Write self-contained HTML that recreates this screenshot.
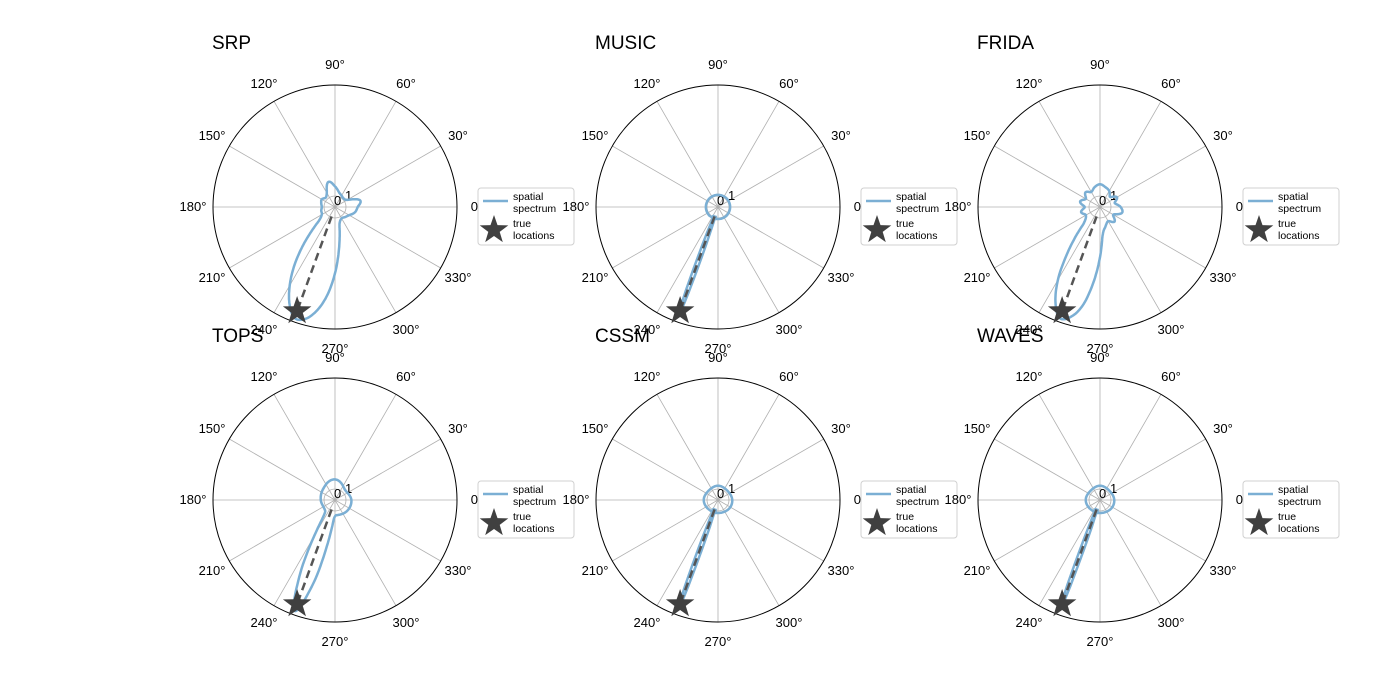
<!DOCTYPE html>
<html><head><meta charset="utf-8"><style>
body{margin:0;background:#fff;}
svg{display:block;font-family:"Liberation Sans","DejaVu Sans",sans-serif;}
</style></head><body>
<svg id="fig" width="1400" height="700" viewBox="0 0 1400 700"></svg>
<script>
const titles=["SRP","MUSIC","FRIDA","TOPS","CSSM","WAVES"];
const trueAngle=[250,250,250,250,250,250];
const trueRadius=[0.95,0.95,0.95,0.95,0.95,0.95];
const angSRP=[0,15,30,45,60,75,90,105,120,135,150,165,180,195,210,220,225,230,235,240,245,250,255,260,265,270,275,280,285,300,315,330,345];
const valSRP=[0.12,0.15,0.04,0.02,0.03,0.05,0.1,0.15,0.06,0.03,0.05,0.04,0.03,0.04,0.05,0.1,0.2,0.37,0.57,0.76,0.92,1.02,1.0,0.9,0.74,0.53,0.32,0.16,0.07,0.03,0.04,0.06,0.1];
const angMUSIC=[0,45,90,135,180,225,240,246,248,250,252,254,260,290,330];
const valMUSIC=[0.02,0.02,0.02,0.02,0.02,0.02,0.02,0.03,0.4,1.0,0.4,0.03,0.02,0.02,0.02];
const angFRIDA=[0,15,30,45,60,75,90,105,120,135,150,165,180,195,210,225,230,235,240,245,250,255,260,265,270,275,285,300,315,330,345];
const valFRIDA=[0.1,0.05,0.09,0.04,0.08,0.1,0.12,0.1,0.07,0.1,0.06,0.1,0.05,0.09,0.06,0.12,0.25,0.45,0.7,0.9,1.02,0.98,0.85,0.62,0.38,0.18,0.1,0.06,0.1,0.05,0.12];
const angTOPS=[0,45,90,135,180,225,235,240,245,250,255,260,265,270,280,320];
const valTOPS=[0.06,0.04,0.1,0.06,0.04,0.04,0.1,0.3,0.7,1.02,0.75,0.35,0.12,0.06,0.05,0.06];
const angCSSM=[0,45,90,135,180,225,240,246,248,250,252,254,260,290,330];
const valCSSM=[0.04,0.03,0.04,0.03,0.04,0.03,0.03,0.04,0.4,1.0,0.4,0.04,0.03,0.03,0.04];
const angWAVES=[0,45,90,135,180,225,240,246,248,250,252,254,260,290,330];
const valWAVES=[0.04,0.03,0.04,0.03,0.04,0.03,0.03,0.04,0.4,1.0,0.4,0.04,0.03,0.03,0.04];
const angles=[angSRP,angMUSIC,angFRIDA,angTOPS,angCSSM,angWAVES];
const values=[valSRP,valMUSIC,valFRIDA,valTOPS,valCSSM,valWAVES];
const thetaTicks=[0,30,60,90,120,150,180,210,240,270,300,330];

const NS="http://www.w3.org/2000/svg";
const svg=document.getElementById("fig");
function mk(t,a,p){const e=document.createElementNS(NS,t);for(const k in a)e.setAttribute(k,a[k]);(p||svg).appendChild(e);return e;}
const centers=[[335,207],[718,207],[1100,207],[335,500],[718,500],[1100,500]];
const R=122,R0=10,K=106;
function rad(v){return R0+v*K;}
function pt(cx,cy,deg,r){const a=deg*Math.PI/180;return [cx+r*Math.cos(a),cy-r*Math.sin(a)];}
function interp(angs,vals,d){
  const n=angs.length;
  const A=j=>angs[((j%n)+n)%n]+360*Math.floor(j/n), V=j=>vals[((j%n)+n)%n];
  for(let i=0;i<n;i++){const a0=A(i),a1=A(i+1);
    let dd=d; if(dd<a0) dd+=360;
    if(dd>=a0&&dd<=a1){const t=(dd-a0)/(a1-a0);
      const p0=V(i-1),p1=V(i),p2=V(i+1),p3=V(i+2);
      const h=a1-a0;
      const m1=(p2-p0)/(A(i+1)-A(i-1))*h, m2=(p3-p1)/(A(i+2)-A(i))*h;
      const t2=t*t,t3=t2*t;
      const v=(2*t3-3*t2+1)*p1+(t3-2*t2+t)*m1+(-2*t3+3*t2)*p2+(t3-t2)*m2;
      return Math.max(0,v);}}
  return vals[0];
}
centers.forEach((c,i)=>{
  const [cx,cy]=c;
  const g=mk("g",{});
  
  
  thetaTicks.forEach(t=>{const p=pt(cx,cy,t,R);const l=mk("line",{x1:cx,y1:cy,x2:p[0],y2:p[1],stroke:"#b0b0b0","stroke-width":0.8},g);
    
    const q=pt(cx,cy,t,R+20);const tx=mk("text",{x:q[0],y:q[1]+4,"font-size":13,"text-anchor":"middle",fill:"#000"},g);tx.textContent=t+"°";
    });
  const ic=mk("circle",{cx:cx,cy:cy,r:11,fill:"none",stroke:"#b0b0b0","stroke-width":0.8},g);
  
  const oc=mk("circle",{cx:cx,cy:cy,r:R,fill:"none",stroke:"#000","stroke-width":1},g);
  
  const r0=mk("text",{x:cx-1,y:cy-2,"font-size":13,fill:"#000"},g);r0.textContent="0";
  
  const r1=mk("text",{x:cx+10,y:cy-7,"font-size":13,fill:"#000"},g);r1.textContent="1";
  
  let d="";for(let a=0;a<=360;a+=0.5){const p=pt(cx,cy,a,rad(interp(angles[i],values[i],a%360)));d+=(a?"L":"M")+p[0].toFixed(1)+" "+p[1].toFixed(1);}
  const sp=mk("path",{d:d+"Z",fill:"none",stroke:"#7bafd4","stroke-width":2.5,"stroke-linejoin":"round"},g);
  
  const s0=pt(cx,cy,trueAngle[i],R0),s1=pt(cx,cy,trueAngle[i],rad(trueRadius[i]));
  const dl=mk("line",{x1:s0[0],y1:s0[1],x2:s1[0],y2:s1[1],stroke:"#555","stroke-width":2.5,"stroke-dasharray":"8,5"},g);
  
  let sd="";for(let k=0;k<10;k++){const rr=k%2?6:15;const a=(90+k*36)*Math.PI/180;sd+=(k?"L":"M")+(s1[0]+rr*Math.cos(a)).toFixed(1)+" "+(s1[1]-rr*Math.sin(a)).toFixed(1);}
  const st=mk("path",{d:sd+"Z",fill:"#404040"},g);
  
  const tt=mk("text",{x:cx-123,y:cy-158,"font-size":19,fill:"#000"},g);tt.textContent=titles[i];
  
  const lg=mk("g",{},g);
  
  const lx=cx+143,ly=cy-19;
  mk("rect",{x:lx,y:ly,width:96,height:57,rx:3,fill:"#fff",stroke:"#d0d0d0","stroke-width":1},lg);
  mk("line",{x1:lx+5,y1:ly+13,x2:lx+30,y2:ly+13,stroke:"#7bafd4","stroke-width":2.5},lg);
  const t1=mk("text",{x:lx+35,y:ly+12,"font-size":10.5,fill:"#000"},lg);t1.textContent="spatial";
  const t2=mk("text",{x:lx+35,y:ly+24,"font-size":10.5,fill:"#000"},lg);t2.textContent=" spectrum";t2.setAttribute("xml:space","preserve");
  let ld="";const sx=lx+16,sy=ly+42;for(let k=0;k<10;k++){const rr=k%2?6:15;const a=(90+k*36)*Math.PI/180;ld+=(k?"L":"M")+(sx+rr*Math.cos(a)).toFixed(1)+" "+(sy-rr*Math.sin(a)).toFixed(1);}
  mk("path",{d:ld+"Z",fill:"#404040"},lg);
  const t3=mk("text",{x:lx+35,y:ly+39,"font-size":10.5,fill:"#000"},lg);t3.textContent="true";
  const t4=mk("text",{x:lx+35,y:ly+51,"font-size":10.5,fill:"#000"},lg);t4.textContent=" locations";t4.setAttribute("xml:space","preserve");
});
</script>
</body></html>
